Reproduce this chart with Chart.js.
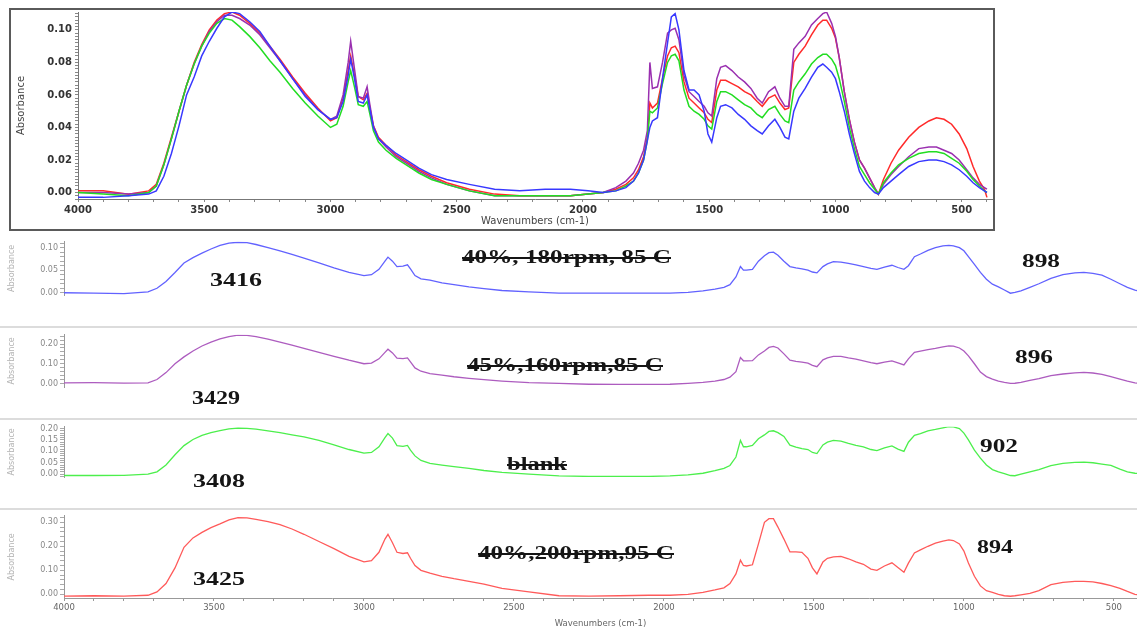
<!DOCTYPE html>
<html>
<head>
<meta charset="utf-8">
<script src="https://cdn.jsdelivr.net/npm/chart.js@4.4.1/dist/chart.umd.min.js"></script>
<style>
  html, body { margin: 0; padding: 0; background: #fff; }
  #page { position: relative; width: 1137px; height: 629px; overflow: hidden; background: #fff; }
  canvas { position: absolute; }
  .frame { position: absolute; left: 9px; top: 8px; width: 982px; height: 219px; border: 2px solid #5a5a5a; pointer-events: none; }
  .sep { position: absolute; left: 0; width: 1137px; height: 2px; background: #dcdcdc; }
  .note { position: absolute; font-family: 'Liberation Serif', 'Times New Roman', serif; font-weight: bold; color: #151515; white-space: nowrap; line-height: 1; transform-origin: 0 50%; }
  .strike { text-decoration: line-through; text-decoration-thickness: 1.5px; }
</style>
</head>
<body>
<div id="page">
  <canvas id="top" width="1000" height="232" style="left:0;top:0"></canvas>
  <div class="frame"></div>
  <canvas id="p1" width="1137" height="91" style="left:0;top:235px"></canvas>
  <canvas id="p2" width="1137" height="90" style="left:0;top:328px"></canvas>
  <canvas id="p3" width="1137" height="88" style="left:0;top:420px"></canvas>
  <canvas id="p4" width="1137" height="120" style="left:0;top:509px"></canvas>
  <div class="sep" style="top:326px"></div>
  <div class="sep" style="top:418px"></div>
  <div class="sep" style="top:508px"></div>
</div>
<script>
// wavenumbers (cm-1), shared by every spectrum
const wavenumbers = [
  4000, 3900, 3800, 3720, 3690, 3660, 3630, 3600, 3570, 3540,
  3510, 3480, 3450, 3420, 3390, 3360, 3320, 3280, 3240, 3200,
  3150, 3100, 3050, 3000, 2975, 2950, 2930, 2920, 2905, 2890,
  2870, 2855, 2845, 2830, 2810, 2780, 2740, 2700, 2650, 2600,
  2540, 2450, 2350, 2250, 2150, 2050, 1980, 1920, 1870, 1830,
  1800, 1780, 1760, 1745, 1735, 1725, 1705, 1685, 1665, 1650,
  1635, 1620, 1600, 1580, 1560, 1540, 1520, 1505, 1490, 1470,
  1455, 1435, 1410, 1385, 1360, 1335, 1310, 1290, 1265, 1240,
  1220, 1200, 1185, 1165, 1145, 1120, 1095, 1070, 1050, 1035,
  1015, 1000, 985, 965, 945, 925, 905, 885, 865, 845,
  830, 810, 780, 750, 710, 670, 630, 600, 570, 540,
  510, 480, 455, 430, 410, 400
];

// overlay (top chart)
const topBlue = [
  -0.003, -0.003, -0.002, -0.001, 0.001, 0.010, 0.024, 0.041, 0.060, 0.071,
  0.084, 0.093, 0.101, 0.108, 0.111, 0.110, 0.105, 0.099, 0.090, 0.081,
  0.070, 0.059, 0.051, 0.045, 0.046, 0.056, 0.072, 0.082, 0.070, 0.056,
  0.055, 0.060, 0.052, 0.040, 0.033, 0.029, 0.024, 0.020, 0.015, 0.011,
  0.008, 0.005, 0.002, 0.001, 0.002, 0.002, 0.001, 0.000, 0.001, 0.003,
  0.007, 0.012, 0.020, 0.032, 0.040, 0.044, 0.046, 0.070, 0.092, 0.108,
  0.110, 0.100, 0.075, 0.063, 0.063, 0.060, 0.050, 0.036, 0.031, 0.046,
  0.053, 0.054, 0.052, 0.048, 0.045, 0.041, 0.038, 0.036, 0.041, 0.045,
  0.040, 0.034, 0.033, 0.050, 0.058, 0.064, 0.071, 0.077, 0.079, 0.077,
  0.074, 0.070, 0.062, 0.050, 0.036, 0.024, 0.013, 0.007, 0.003, 0.000,
  -0.001, 0.003, 0.007, 0.011, 0.016, 0.019, 0.020, 0.020, 0.019, 0.017,
  0.014, 0.010, 0.006, 0.003, 0.001, 0.000
];
const topPurple = [
  0.000, 0.000, -0.001, 0.000, 0.004, 0.017, 0.033, 0.050, 0.066, 0.079,
  0.090, 0.099, 0.105, 0.109, 0.109, 0.107, 0.103, 0.097, 0.089, 0.081,
  0.070, 0.060, 0.051, 0.045, 0.047, 0.060, 0.080, 0.093, 0.076, 0.059,
  0.058, 0.065, 0.055, 0.041, 0.033, 0.028, 0.022, 0.018, 0.013, 0.009,
  0.005, 0.001, -0.002, -0.002, -0.002, -0.002, -0.001, 0.000, 0.003, 0.007,
  0.012, 0.018, 0.026, 0.038, 0.080, 0.064, 0.065, 0.080, 0.098, 0.100,
  0.101, 0.094, 0.072, 0.062, 0.059, 0.056, 0.053, 0.049, 0.047, 0.070,
  0.077, 0.078, 0.075, 0.071, 0.068, 0.064, 0.058, 0.055, 0.062, 0.065,
  0.058, 0.053, 0.053, 0.088, 0.092, 0.096, 0.103, 0.107, 0.110, 0.111,
  0.104, 0.096, 0.083, 0.062, 0.045, 0.031, 0.020, 0.015, 0.009, 0.003,
  -0.001, 0.005, 0.011, 0.016, 0.022, 0.027, 0.028, 0.028, 0.026, 0.024,
  0.020, 0.014, 0.009, 0.005, 0.003, 0.002
];
const topRed = [
  0.001, 0.001, -0.001, 0.001, 0.005, 0.018, 0.034, 0.050, 0.066, 0.080,
  0.091, 0.100, 0.106, 0.110, 0.111, 0.109, 0.104, 0.098, 0.090, 0.082,
  0.071, 0.061, 0.052, 0.044, 0.046, 0.058, 0.075, 0.084, 0.072, 0.059,
  0.057, 0.061, 0.053, 0.041, 0.034, 0.029, 0.023, 0.019, 0.014, 0.010,
  0.006, 0.002, -0.001, -0.002, -0.002, -0.002, -0.001, 0.000, 0.002, 0.005,
  0.009, 0.014, 0.022, 0.034, 0.055, 0.052, 0.055, 0.070, 0.084, 0.089,
  0.090, 0.086, 0.068, 0.058, 0.055, 0.052, 0.049, 0.045, 0.043, 0.063,
  0.069, 0.069, 0.067, 0.065, 0.062, 0.060, 0.056, 0.053, 0.058, 0.060,
  0.055, 0.051, 0.052, 0.080, 0.085, 0.090, 0.097, 0.103, 0.106, 0.106,
  0.101, 0.095, 0.083, 0.062, 0.045, 0.031, 0.020, 0.015, 0.009, 0.003,
  -0.001, 0.008, 0.018, 0.026, 0.034, 0.040, 0.044, 0.046, 0.045, 0.042,
  0.036, 0.027, 0.016, 0.007, 0.002, -0.003
];
const topGreen = [
  0.000, -0.001, -0.002, 0.000, 0.004, 0.017, 0.033, 0.050, 0.066, 0.079,
  0.090, 0.098, 0.104, 0.107, 0.106, 0.102, 0.096, 0.089, 0.081, 0.074,
  0.064, 0.055, 0.047, 0.040, 0.042, 0.053, 0.068, 0.075, 0.065, 0.054,
  0.053, 0.056, 0.049, 0.038, 0.031, 0.026, 0.021, 0.017, 0.012, 0.008,
  0.005, 0.001, -0.002, -0.002, -0.002, -0.002, -0.001, 0.000, 0.001, 0.004,
  0.007, 0.012, 0.020, 0.032, 0.050, 0.049, 0.052, 0.067, 0.080, 0.084,
  0.085, 0.081, 0.063, 0.053, 0.050, 0.048, 0.045, 0.041, 0.039, 0.056,
  0.062, 0.062, 0.060, 0.057, 0.054, 0.052, 0.048, 0.046, 0.051, 0.053,
  0.048, 0.044, 0.043, 0.063, 0.068, 0.073, 0.079, 0.083, 0.085, 0.085,
  0.082, 0.078, 0.070, 0.056, 0.040, 0.027, 0.016, 0.011, 0.006, 0.002,
  -0.001, 0.006, 0.012, 0.017, 0.021, 0.024, 0.025, 0.025, 0.024, 0.021,
  0.018, 0.013, 0.008, 0.004, 0.001, 0.000
];

// stacked panels
const panelBlue = [
  0.000, -0.001, -0.002, 0.002, 0.010, 0.025, 0.045, 0.066, 0.078, 0.088,
  0.097, 0.105, 0.110, 0.112, 0.111, 0.107, 0.100, 0.093, 0.085, 0.077,
  0.066, 0.055, 0.045, 0.038, 0.040, 0.052, 0.070, 0.079, 0.070, 0.058,
  0.059, 0.062, 0.053, 0.038, 0.031, 0.028, 0.022, 0.018, 0.013, 0.009,
  0.005, 0.002, -0.001, -0.001, -0.001, -0.001, -0.001, 0.001, 0.004, 0.008,
  0.012, 0.018, 0.035, 0.058, 0.050, 0.050, 0.052, 0.070, 0.082, 0.089,
  0.090, 0.083, 0.070, 0.058, 0.055, 0.053, 0.050, 0.046, 0.044, 0.058,
  0.064, 0.069, 0.068, 0.065, 0.062, 0.058, 0.054, 0.052, 0.057, 0.061,
  0.056, 0.052, 0.060, 0.080, 0.086, 0.094, 0.100, 0.104, 0.105, 0.104,
  0.100, 0.093, 0.080, 0.063, 0.045, 0.030, 0.019, 0.013, 0.006, -0.001,
  0.001, 0.004, 0.012, 0.020, 0.032, 0.040, 0.044, 0.045, 0.043, 0.039,
  0.030, 0.020, 0.012, 0.006, 0.002, 0.000
];
const panelPurple = [
  0.003, 0.004, 0.002, 0.003, 0.020, 0.055, 0.100, 0.135, 0.165, 0.190,
  0.210, 0.226, 0.238, 0.245, 0.244, 0.238, 0.225, 0.210, 0.195, 0.178,
  0.158, 0.138, 0.118, 0.100, 0.103, 0.125, 0.158, 0.174, 0.155, 0.128,
  0.126, 0.130, 0.110, 0.079, 0.062, 0.050, 0.042, 0.034, 0.026, 0.019,
  0.012, 0.004, 0.000, -0.004, -0.005, -0.005, -0.004, 0.000, 0.005, 0.012,
  0.020, 0.032, 0.060, 0.132, 0.115, 0.115, 0.116, 0.145, 0.165, 0.183,
  0.188, 0.180, 0.150, 0.118, 0.112, 0.108, 0.103, 0.092, 0.085, 0.120,
  0.130, 0.137, 0.137, 0.130, 0.124, 0.115, 0.106, 0.100, 0.108, 0.115,
  0.105, 0.094, 0.125, 0.158, 0.164, 0.172, 0.178, 0.186, 0.191, 0.190,
  0.180, 0.165, 0.140, 0.100, 0.058, 0.035, 0.022, 0.012, 0.005, 0.000,
  0.001, 0.006, 0.016, 0.025, 0.040, 0.048, 0.054, 0.056, 0.053, 0.046,
  0.035, 0.022, 0.012, 0.003, 0.000, -0.002
];
const panelGreen = [
  -0.006, -0.006, -0.005, 0.000, 0.010, 0.040, 0.085, 0.125, 0.152, 0.170,
  0.182, 0.191, 0.198, 0.202, 0.201, 0.197, 0.190, 0.182, 0.172, 0.163,
  0.148, 0.128, 0.108, 0.092, 0.095, 0.120, 0.160, 0.178, 0.158, 0.125,
  0.122, 0.126, 0.105, 0.080, 0.060, 0.047, 0.040, 0.033, 0.025, 0.016,
  0.008, 0.000, -0.008, -0.010, -0.010, -0.010, -0.008, -0.003, 0.004, 0.015,
  0.025, 0.038, 0.075, 0.148, 0.120, 0.120, 0.126, 0.155, 0.172, 0.187,
  0.190, 0.182, 0.165, 0.127, 0.118, 0.112, 0.108, 0.095, 0.090, 0.128,
  0.140, 0.148, 0.145, 0.135, 0.126, 0.120, 0.108, 0.103, 0.115, 0.124,
  0.110, 0.100, 0.140, 0.170, 0.178, 0.190, 0.196, 0.203, 0.208, 0.207,
  0.200, 0.180, 0.150, 0.105, 0.070, 0.040, 0.020, 0.010, 0.002, -0.006,
  -0.007, 0.000, 0.010, 0.020, 0.037, 0.047, 0.052, 0.053, 0.050, 0.044,
  0.038, 0.022, 0.010, 0.004, 0.003, 0.002
];
const panelRed = [
  -0.008, -0.006, -0.008, -0.004, 0.010, 0.045, 0.110, 0.196, 0.235, 0.258,
  0.278, 0.293, 0.310, 0.319, 0.318, 0.312, 0.303, 0.290, 0.272, 0.250,
  0.220, 0.190, 0.158, 0.135, 0.140, 0.175, 0.230, 0.250, 0.215, 0.175,
  0.170, 0.173, 0.150, 0.120, 0.100, 0.088, 0.075, 0.065, 0.054, 0.042,
  0.025, 0.010, -0.006, -0.008, -0.006, -0.004, -0.004, 0.000, 0.008, 0.018,
  0.027, 0.045, 0.085, 0.142, 0.120, 0.118, 0.123, 0.210, 0.300, 0.315,
  0.315, 0.280, 0.230, 0.177, 0.177, 0.175, 0.150, 0.110, 0.085, 0.135,
  0.150, 0.156, 0.158, 0.148, 0.135, 0.125, 0.105, 0.100, 0.118, 0.131,
  0.112, 0.092, 0.130, 0.172, 0.185, 0.200, 0.213, 0.222, 0.227, 0.224,
  0.210, 0.180, 0.130, 0.075, 0.035, 0.015, 0.008, 0.000, -0.006, -0.008,
  -0.006, -0.002, 0.004, 0.015, 0.040, 0.050, 0.054, 0.054, 0.052, 0.045,
  0.036, 0.025, 0.012, 0.000, -0.004, -0.005
];

// tick labels
const xTickLabels = [4000, 3500, 3000, 2500, 2000, 1500, 1000, 500];
const topYLabels = [0.00, 0.02, 0.04, 0.06, 0.08, 0.10];
const blueYLabels = [0.00, 0.05, 0.10];
const purpleYLabels = [0.00, 0.10, 0.20];
const greenYLabels = [0.00, 0.05, 0.10, 0.15, 0.20];
const redYLabels = [0.00, 0.10, 0.20, 0.30];

// text on the panels
const notes = [
  { text: '40%, 180rpm, 85 C', x0: 462, x1: 671, cy: 257, size: 18, strike: true },
  { text: '45%,160rpm,85 C', x0: 467, x1: 663, cy: 365, size: 18, strike: true },
  { text: 'blank', x0: 507, x1: 567, cy: 464, size: 18, strike: true },
  { text: '40%,200rpm,95 C', x0: 478, x1: 674, cy: 553, size: 18, strike: true },
  { text: '3416', x0: 210, x1: 262, cy: 279, size: 19 },
  { text: '3429', x0: 192, x1: 240, cy: 397, size: 19 },
  { text: '3408', x0: 193, x1: 245, cy: 480, size: 19 },
  { text: '3425', x0: 193, x1: 245, cy: 578, size: 19 },
  { text: '898', x0: 1022, x1: 1060, cy: 260, size: 19 },
  { text: '896', x0: 1015, x1: 1053, cy: 356, size: 19 },
  { text: '902', x0: 980, x1: 1018, cy: 445, size: 19 },
  { text: '894', x0: 977, x1: 1013, cy: 546, size: 19 }
];

const points = arr => wavenumbers.map((w, i) => ({ x: w, y: arr[i] }));

function steps(from, to, step) {
  const out = [];
  for (let k = Math.ceil(from / step - 1e-9); k * step <= to + 1e-9; k++) {
    out.push(+(k * step).toFixed(6));
  }
  return out;
}
const isMajor = (v, list) => list.some(m => Math.abs(m - v) < 1e-9);

const baseOpts = {
  responsive: false,
  animation: false,
  events: [],
  plugins: { legend: { display: false }, tooltip: { enabled: false } },
  elements: { point: { radius: 0 } }
};

function line(arr, color, width) {
  return { data: points(arr), borderColor: color, borderWidth: width, tension: 0, fill: false };
}

// ---- top overlay ----
const topXTicks = steps(400, 4000, 100).reverse();
const topYTicks = steps(-0.004, 0.111, 0.002);
const topFont = { family: 'DejaVu Sans', size: 10, weight: 'bold' };

new Chart(document.getElementById('top'), {
  type: 'line',
  data: {
    datasets: [
      line(topBlue, '#3838ff', 1.5),
      line(topGreen, '#22dd22', 1.5),
      line(topPurple, '#9a30b0', 1.5),
      line(topRed, '#ff2a2a', 1.5)
    ]
  },
  options: {
    ...baseOpts,
    layout: { padding: { top: 12, right: 8, bottom: 0, left: 0 } },
    scales: {
      x: {
        type: 'linear', reverse: true, min: 380, max: 4000,
        afterFit: s => { s.height = 33; },
        afterBuildTicks: s => { s.ticks = topXTicks.map(v => ({ value: v })); },
        ticks: { autoSkip: false, maxRotation: 0, padding: 2, color: '#333', font: topFont,
                 callback: v => xTickLabels.includes(v) ? String(v) : '' },
        grid: { drawOnChartArea: false, tickLength: 3, color: '#888' },
        border: { color: '#777' },
        title: { display: true, text: 'Wavenumbers (cm-1)', color: '#444',
                 font: { family: 'DejaVu Sans', size: 10 }, padding: { top: 5, bottom: 5 } }
      },
      y: {
        type: 'linear', min: -0.004, max: 0.111,
        afterFit: s => { s.width = 78; },
        afterBuildTicks: s => { s.ticks = topYTicks.map(v => ({ value: v })); },
        ticks: { autoSkip: false, padding: 3, color: '#333', font: topFont,
                 callback: v => isMajor(v, topYLabels) ? v.toFixed(2) : '' },
        grid: { drawOnChartArea: false, tickLength: 3, color: '#888' },
        border: { color: '#777' },
        title: { display: true, text: 'Absorbance', color: '#444',
                 font: { family: 'DejaVu Sans', size: 10 }, padding: { top: 15, bottom: 0 } }
      }
    }
  }
});

// ---- stacked panels ----
const panelXTicks = steps(500, 4000, 100).reverse();
const smallFont = { family: 'DejaVu Sans', size: 8 };

function panel(id, arr, color, yMin, yMax, minor, labels, showX) {
  const yTicks = steps(yMin, yMax, minor);
  return new Chart(document.getElementById(id), {
    type: 'line',
    data: { datasets: [line(arr, color, 1.3)] },
    options: {
      ...baseOpts,
      layout: { padding: 0 },
      scales: {
        x: {
          type: 'linear', reverse: true, min: 423, max: 4000, display: showX,
          afterFit: s => { s.height = 31; },
          afterBuildTicks: s => { s.ticks = panelXTicks.map(v => ({ value: v })); },
          ticks: { autoSkip: false, maxRotation: 0, padding: 2, color: '#666',
                   font: { family: 'DejaVu Sans', size: 8.5 },
                   callback: v => xTickLabels.includes(v) ? String(v) : '' },
          grid: { drawOnChartArea: false, tickLength: 3, color: '#999' },
          border: { color: '#999' },
          title: { display: true, text: 'Wavenumbers (cm-1)', color: '#666',
                   font: { family: 'DejaVu Sans', size: 8.5 }, padding: { top: 2, bottom: 0 } }
        },
        y: {
          type: 'linear', min: yMin, max: yMax,
          afterFit: s => { s.width = 64; },
          afterBuildTicks: s => { s.ticks = yTicks.map(v => ({ value: v })); },
          ticks: { autoSkip: false, padding: 2, color: '#888', font: smallFont,
                   callback: v => isMajor(v, labels) ? v.toFixed(2) : '' },
          grid: { drawOnChartArea: false, tickLength: 4, color: '#aaa' },
          border: { color: '#999' },
          title: { display: true, text: 'Absorbance', color: '#b4b4b4', font: smallFont,
                   padding: { top: 7, bottom: 0 } }
        }
      }
    }
  });
}

panel('p1', panelBlue, '#6262ff', -0.005, 0.113, 0.01, blueYLabels, false);
panel('p2', panelPurple, '#ad5cbf', -0.018, 0.247, 0.02, purpleYLabels, false);
panel('p3', panelGreen, '#4cef4c', -0.0125, 0.2075, 0.01, greenYLabels, false);
panel('p4', panelRed, '#ff5a5a', -0.0154, 0.327, 0.02, redYLabels, true);

// ---- annotations ----
const page = document.getElementById('page');
notes.forEach(n => {
  const el = document.createElement('div');
  el.className = 'note' + (n.strike ? ' strike' : '');
  el.textContent = n.text;
  el.style.fontSize = n.size + 'px';
  el.style.left = n.x0 + 'px';
  el.style.top = (n.cy - n.size / 2) + 'px';
  page.appendChild(el);
  const w = el.getBoundingClientRect().width;
  el.style.transform = 'scaleX(' + ((n.x1 - n.x0) / w).toFixed(3) + ')';
});
</script>
</body>
</html>
